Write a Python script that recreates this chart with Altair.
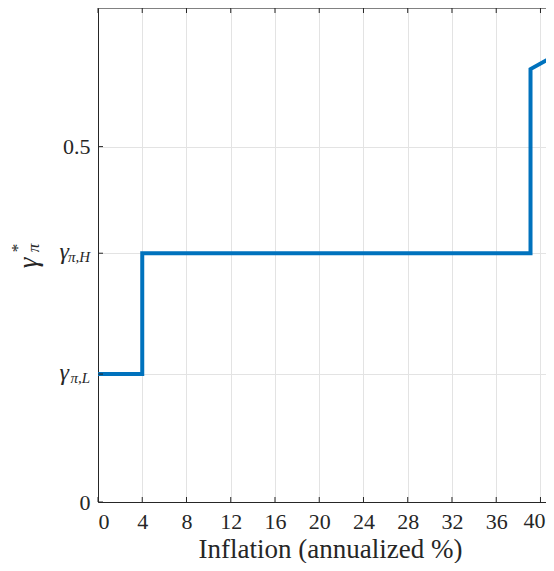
import altair as alt
import pandas as pd

# ---- data ----
line_x = [0, 4.0, 4.0, 39.1, 39.1, 41.4]
line_y = [0.18, 0.18, 0.35, 0.35, 0.609, 0.629]
x_ticks = [0, 4, 8, 12, 16, 20, 24, 28, 32, 36, 40]
x_last_tick = [40]
y_ticks = [0, 0.18, 0.35, 0.5]
y_gamma_ticks = [0.18, 0.35]
y_gamma_subs = ["π,L", "π,H"]
x_title = "Inflation (annualized %)"

X_MAX = 40.5
Y_MAX = 0.695
W, H = 448, 494

FONT = "'Liberation Serif', 'Times New Roman', Times, serif"
DARK = "#262626"
GRID = "#e3e3e3"
BLUE = "#0072BD"

xs = alt.Scale(domain=[0, X_MAX], nice=False, zero=False)
ys = alt.Scale(domain=[0, Y_MAX], nice=False, zero=False)

line_df = pd.DataFrame({"x": line_x, "y": line_y, "i": list(range(len(line_x)))})
xt_df = pd.DataFrame({"x": x_ticks})
xl_df = pd.DataFrame({"x": x_last_tick, "t": [str(v) for v in x_last_tick]})
yt_df = pd.DataFrame({"y": y_ticks})
yg_df = pd.DataFrame({"y": y_gamma_ticks, "sub": y_gamma_subs})
one = pd.DataFrame({"k": [0]})

xaxis = alt.Axis(values=x_ticks, grid=True, gridColor=GRID, domain=True, domainColor=DARK,
                 ticks=False, tickSize=0, labelFont=FONT, labelFontSize=22, labelColor=DARK,
                 labelPadding=9, labelExpr="datum.value == 40 ? '' : datum.label",
                 title=x_title, titleFont=FONT, titleFontSize=27,
                 titleFontWeight="normal", titleColor=DARK, titleX=232, titleY=55,
                 titleBaseline="alphabetic")
yaxis = alt.Axis(values=y_ticks, grid=True, gridColor=GRID, domain=True, domainColor=DARK,
                 ticks=False, tickSize=0, labelFont=FONT, labelFontSize=22, labelColor=DARK,
                 labelPadding=8,
                 labelExpr="datum.value == 0 ? '0' : (datum.value == 0.5 ? '0.5' : '')",
                 title=None)

base_line = alt.Chart(line_df).mark_line(
    color=BLUE, strokeWidth=4, clip=True, strokeJoin="miter", strokeCap="butt"
).encode(
    x=alt.X("x:Q", scale=xs, axis=xaxis),
    y=alt.Y("y:Q", scale=ys, axis=yaxis),
    order="i:Q",
)

# last x tick label, nudged so it stays inside the page
x_last = alt.Chart(xl_df).mark_text(
    font=FONT, fontSize=22, color=DARK, align="center", baseline="top", dy=9, dx=-6
).encode(x=alt.X("x:Q", scale=xs), y=alt.value(H), text="t:N")

top_frame = alt.Chart(one).mark_rule(color=DARK, strokeWidth=1).encode(
    x=alt.value(0), x2=alt.value(W + 2), y=alt.value(0))
xt_bottom = alt.Chart(xt_df).mark_rule(color=DARK, strokeWidth=1).encode(
    x=alt.X("x:Q", scale=xs), y=alt.value(H), y2=alt.value(H - 5))
xt_top = alt.Chart(xt_df).mark_rule(color=DARK, strokeWidth=1).encode(
    x=alt.X("x:Q", scale=xs), y=alt.value(0), y2=alt.value(5))
yt_left = alt.Chart(yt_df).mark_rule(color=DARK, strokeWidth=1).encode(
    y=alt.Y("y:Q", scale=ys), x=alt.value(0), x2=alt.value(5))

g_main = alt.Chart(yg_df).mark_text(
    font=FONT, fontStyle="italic", fontSize=24, align="right", baseline="alphabetic",
    color=DARK, dy=6
).encode(y=alt.Y("y:Q", scale=ys), x=alt.value(-29), text=alt.value("γ"))
g_sub = alt.Chart(yg_df).mark_text(
    font=FONT, fontStyle="italic", fontSize=15, align="right", baseline="alphabetic",
    color=DARK, dy=9
).encode(y=alt.Y("y:Q", scale=ys), x=alt.value(-8), text="sub:N")

t_main = alt.Chart(one).mark_text(
    font=FONT, fontStyle="italic", fontSize=27, align="center", baseline="middle",
    angle=270, color=DARK
).encode(x=alt.value(-69), y=alt.value(255), text=alt.value("γ"))
t_sup = alt.Chart(one).mark_text(
    font=FONT, fontSize=17, align="center", baseline="middle", angle=270, color=DARK
).encode(x=alt.value(-80), y=alt.value(240), text=alt.value("*"))
t_sub = alt.Chart(one).mark_text(
    font=FONT, fontStyle="italic", fontSize=17, align="center", baseline="middle",
    angle=270, color=DARK
).encode(x=alt.value(-64), y=alt.value(240), text=alt.value("π"))

chart = alt.layer(
    base_line, x_last, top_frame, xt_bottom, xt_top, yt_left,
    g_main, g_sub, t_main, t_sup, t_sub
).properties(
    width=W, height=H,
    autosize=alt.AutoSizeParams(type="none"),
    padding={"left": 90, "top": 0, "right": 0, "bottom": 61},
).configure_view(strokeWidth=0).configure(background="white")

chart.save("out.html", embed_options={"renderer": "svg", "actions": False})
